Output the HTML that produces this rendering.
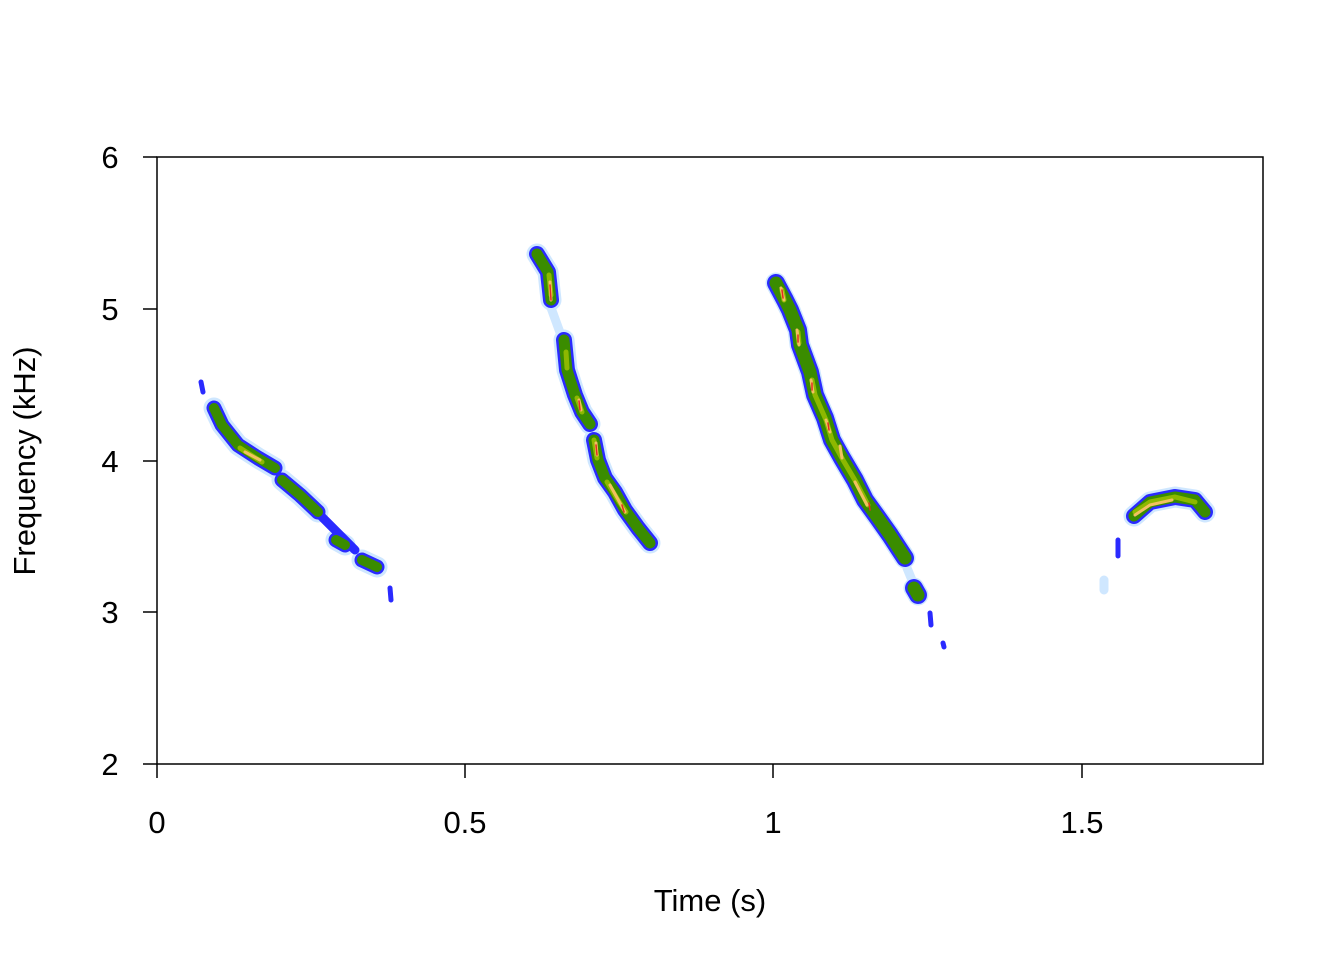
<!DOCTYPE html>
<html><head><meta charset="utf-8"><style>
html,body{margin:0;padding:0;background:#fff;}
svg text{font-family:"Liberation Sans",sans-serif;font-size:31px;fill:#000;}
</style></head><body>
<svg width="1344" height="960" viewBox="0 0 1344 960" xmlns="http://www.w3.org/2000/svg">
<defs>
<path id="a1" d="M214,408 L222,425 L238,445 L258,458 L275,468"/>
<path id="a1b" d="M282,480 L300,495 L318,512"/>
<path id="a1c" d="M336,540 L345,545"/>
<path id="a1d" d="M362,560 L377,567"/>
<path id="a2" d="M537,254 L548,272 L551,300"/>
<path id="a2b" d="M564,340 L567,370 L575,395 L582,412 L590,424"/>
<path id="a2c" d="M594,440 L598,460 L605,478 L615,492 L625,510 L638,528 L650,543"/>
<path id="a3" d="M776,283 L785,300 L790,310 L798,330 L800,345 L810,372 L815,395 L825,418 L832,440 L842,458 L855,480 L865,500 L878,518 L890,535 L905,558"/>
<path id="a3d" d="M914,588 L918,595"/>
<path id="a4" d="M1134,516 L1150,502 L1175,497 L1195,500 L1205,512"/>
</defs>
<g fill="none" stroke-linecap="round" stroke-linejoin="round">
<g stroke="#cfe7ff" stroke-width="21">
<use href="#a1"/><use href="#a1b"/><use href="#a1c"/><use href="#a1d"/>
<use href="#a2"/><use href="#a2b"/><use href="#a2c"/>
<use href="#a3"/><use href="#a3d"/><use href="#a4"/>
<path stroke-width="9" d="M550,305 L562,338 M588,428 L594,440 M907,568 L914,585 M1104,580 L1104,590 M280,472 L288,480"/>
</g>
<g stroke="#2a2aff">
<g stroke-width="15"><use href="#a1"/><use href="#a1b"/><use href="#a1c"/><use href="#a1d"/></g>
<g stroke-width="16"><use href="#a2"/><use href="#a2b"/><use href="#a2c"/><use href="#a4"/></g>
<g stroke-width="18"><use href="#a3"/><use href="#a3d"/></g>
<path stroke-width="5" d="M201,382 L203,392 M390,588 L391,600 M1118,540 L1118,556 M930,613 L931,625 M943,643 L944,647"/>
<path stroke-width="9" d="M285,482 L320,515 L355,550"/>
</g>
<g stroke="#3a8c00">
<g stroke-width="10"><use href="#a1"/><use href="#a1b"/><use href="#a1c"/><use href="#a1d"/></g>
<g stroke-width="11"><use href="#a2"/><use href="#a2b"/><use href="#a2c"/><use href="#a4"/></g>
<g stroke-width="13"><use href="#a3"/><use href="#a3d"/></g>
</g>
<g stroke="#8db800" stroke-width="5">
<path d="M240,448 L262,462"/>
<path d="M549,275 L551,295"/><path d="M566,352 L567,368"/><path d="M577,398 L582,412"/>
<path d="M594,440 L597,458"/><path d="M607,482 L618,500 L626,512"/>
<path d="M782,290 L784,300"/><path d="M798,332 L799,343"/><path d="M812,380 L815,395 L826,420 L832,440 L843,460 L856,482 L868,505"/>
<path d="M1135,512 L1150,502 L1175,497 L1195,502"/>
</g>
<g stroke="#f2c060" stroke-width="3">
<path d="M245,452 L260,460"/>
<path d="M550,282 L551,300"/><path d="M579,400 L581,410"/><path d="M596,443 L597,455"/>
<path d="M610,485 L620,503 L625,512"/><path d="M781,288 L784,300"/><path d="M797,330 L799,345"/><path d="M811,380 L813,392"/><path d="M826,420 L830,432"/><path d="M840,446 L842,458"/><path d="M855,482 L867,505"/>
<path d="M1135,515 L1150,505 L1172,500"/>
</g>
<g stroke="#e03020" stroke-width="1.5">
<path d="M550,285 L551,300"/><path d="M579,401 L580,410"/><path d="M596,445 L597,455"/><path d="M622,505 L624,512"/>
<path d="M782,290 L783,298"/><path d="M798,335 L798,342"/><path d="M812,383 L812,390"/><path d="M828,423 L829,430"/><path d="M869,503 L870,510"/>
</g>
</g>
<g stroke="#000" stroke-width="1.5" fill="none">
<rect x="157" y="157" width="1106" height="607"/>
<path d="M157,764 V778 M465,764 V778 M773,764 V778 M1082,764 V778"/>
<path d="M157,157 H143 M157,309 H143 M157,461 H143 M157,612 H143 M157,764 H143"/>
</g>
<g text-anchor="middle">
<text x="157" y="833">0</text><text x="465" y="833">0.5</text><text x="773" y="833">1</text><text x="1082" y="833">1.5</text>
<text x="710" y="911">Time (s)</text>
<text x="110" y="168">6</text><text x="110" y="320">5</text><text x="110" y="472">4</text><text x="110" y="623">3</text><text x="110" y="775">2</text>
<text transform="translate(35,461) rotate(-90)">Frequency (kHz)</text>
</g>
</svg>
</body></html>
